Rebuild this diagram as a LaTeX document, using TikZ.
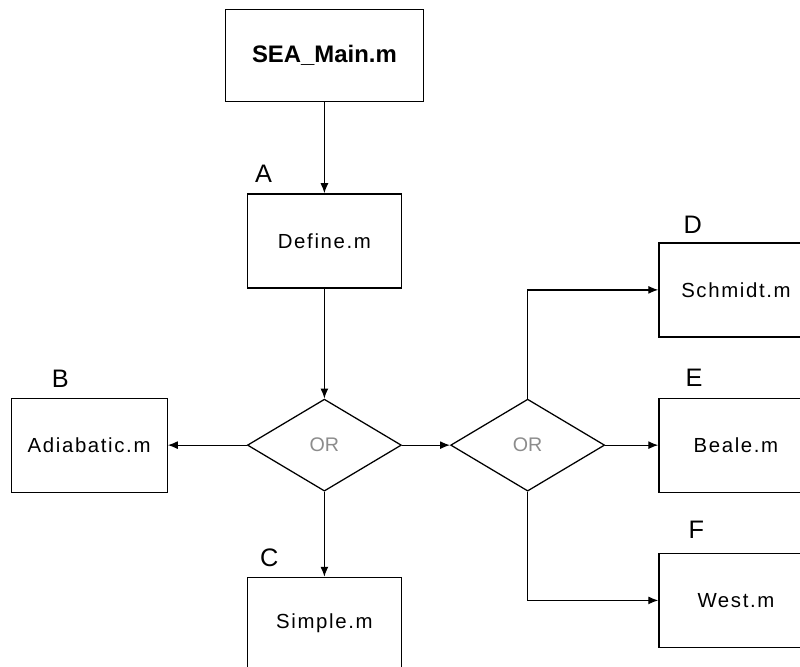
\documentclass[tikz,border=0pt]{standalone}
\usepackage{fontspec}
\setmainfont{Liberation Sans}
\newfontfamily\boxfont[LetterSpace=8]{Liberation Sans}
\usetikzlibrary{positioning,shapes.geometric,arrows.meta}

\begin{document}
\begin{tikzpicture}[
    file/.style={draw,line width=0.9pt,minimum width=3.85cm,minimum height=2.35cm,
        font=\boxfont\fontsize{14.5}{17}\selectfont},
    choice/.style={draw,diamond,line width=0.9pt,inner sep=0pt,minimum width=3.85cm,
        minimum height=2.3cm,text=black!45,font=\fontsize{14}{17}\selectfont},
    tag/.style={inner sep=0pt,font=\fontsize{18}{21}\selectfont},
    flow/.style={line width=0.9pt,-{Latex[length=2.5mm,width=2mm]}}
    ]
    \clip (0,0) rectangle (20,-16.65);

    \node (main) [file,minimum width=4.95cm,minimum height=2.3cm,
        font=\bfseries\fontsize{17}{20}\selectfont] at (8.11,-1.39) {SEA\_Main.m};
    \node (define) [file,below = 2.275cm,at=(main.south)] {Define.m};
    \node (or1) [choice,below = 2.75cm,at=(define.south)] {OR};
    \node (adiabatic) [file,left = 1.975cm,at=(or1.west),minimum width=3.9cm] {Adiabatic.m};
    \node (simple) [file,below = 2.125cm,at=(or1.south),minimum height=2.3cm] {Simple.m};
    \node (or2) [choice,right = 1.2cm,at=(or1.east)] {OR};
    \node (beale) [file,right = 1.325cm,at=(or2.east)] {Beale.m};
    \node (schmidt) [file,above = 1.5cm,at=(beale.north)] {Schmidt.m};
    \node (west) [file,below = 1.5cm,at=(beale.south)] {West.m};

    \node (tagA) [tag,above right,at=(define.north west),xshift=0.2cm,yshift=0.25cm] {A};
    \node (tagB) [tag,above right,at=(adiabatic.north west),xshift=1.025cm,yshift=0.25cm] {B};
    \node (tagC) [tag,above right,at=(simple.north west),xshift=0.325cm,yshift=0.25cm] {C};
    \node (tagD) [tag,above right,at=(schmidt.north west),xshift=0.625cm,yshift=0.2cm] {D};
    \node (tagE) [tag,above right,at=(beale.north west),xshift=0.675cm,yshift=0.275cm] {E};
    \node (tagF) [tag,above right,at=(west.north west),xshift=0.75cm,yshift=0.35cm] {F};

    \path[flow]
    (main) edge node {} (define)
    (define) edge node {} (or1)
    (or1) edge node {} (adiabatic)
    (or1) edge node {} (simple)
    (or1) edge node {} (or2)
    (or2) edge node {} (beale)
    ;
    \draw[flow] (or2.north) |- (schmidt.west);
    \draw[flow] (or2.south) |- (west.west);
\end{tikzpicture}
\end{document}
